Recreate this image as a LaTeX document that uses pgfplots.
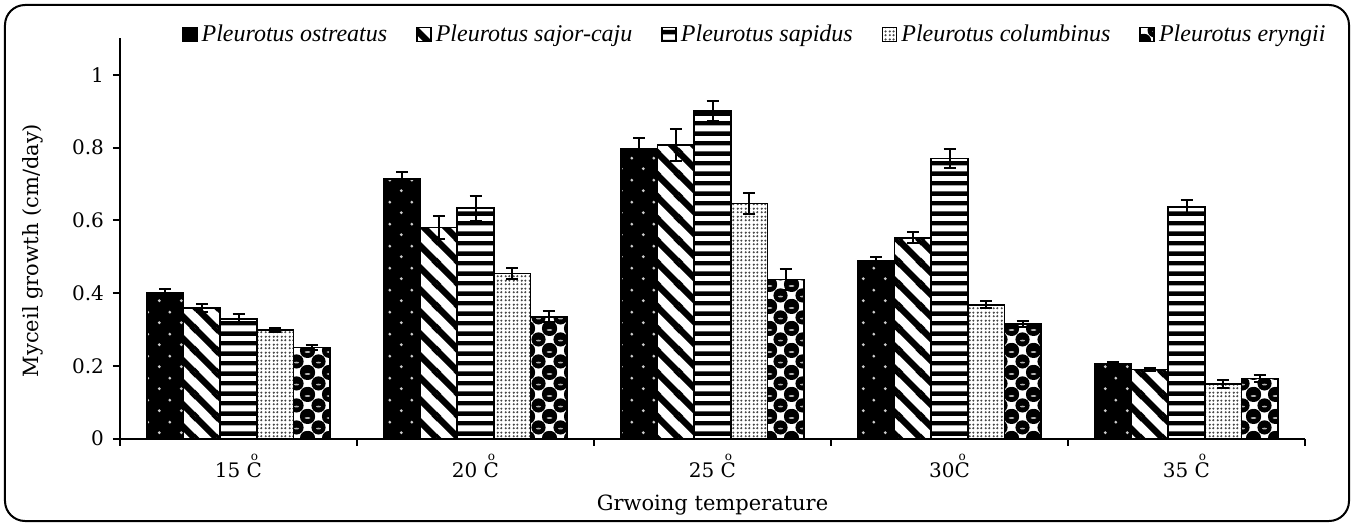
\documentclass[border=0pt]{standalone}
\usepackage{fontspec}
\setmainfont{DejaVu Serif}
\newfontfamily\legfont{Liberation Serif}
\usepackage{pgfplots}
\pgfplotsset{compat=1.18}
\usetikzlibrary{patterns}

% white dots on black
\pgfdeclarepatternformonly{wdots}{\pgfpoint{0pt}{0pt}}{\pgfpoint{11pt}{11pt}}{\pgfpoint{11pt}{11pt}}{%
  \pgfpathcircle{\pgfpoint{2.75pt}{2.75pt}}{0.8pt}%
  \pgfpathcircle{\pgfpoint{8.25pt}{8.25pt}}{0.8pt}%
  \pgfusepath{fill}}
% diagonal stripes
\pgfdeclarepatternformonly{dstripes}{\pgfpoint{0pt}{0pt}}{\pgfpoint{10.85pt}{10.85pt}}{\pgfpoint{10.85pt}{10.85pt}}{%
  \pgfsetlinewidth{3.2pt}%
  \pgfpathmoveto{\pgfpoint{-5.425pt}{5.425pt}}\pgfpathlineto{\pgfpoint{5.425pt}{-5.425pt}}%
  \pgfpathmoveto{\pgfpoint{0pt}{10.85pt}}\pgfpathlineto{\pgfpoint{10.85pt}{0pt}}%
  \pgfpathmoveto{\pgfpoint{5.425pt}{16.275pt}}\pgfpathlineto{\pgfpoint{16.275pt}{5.425pt}}%
  \pgfusepath{stroke}}
% horizontal stripes
\pgfdeclarepatternformonly{hstripes}{\pgfpoint{0pt}{0pt}}{\pgfpoint{40pt}{10pt}}{\pgfpoint{40pt}{10pt}}{%
  \pgfpathrectangle{\pgfpoint{-1pt}{0.3pt}}{\pgfpoint{42pt}{2.3pt}}%
  \pgfpathrectangle{\pgfpoint{-1pt}{5.3pt}}{\pgfpoint{42pt}{2.3pt}}%
  \pgfusepath{fill}}
% light dots
\pgfdeclarepatternformonly{ldots}{\pgfpoint{0pt}{0pt}}{\pgfpoint{4pt}{4pt}}{\pgfpoint{4pt}{4pt}}{%
  \pgfpathcircle{\pgfpoint{1pt}{1pt}}{0.65pt}%
  \pgfpathcircle{\pgfpoint{3pt}{1pt}}{0.65pt}%
  \pgfpathcircle{\pgfpoint{1pt}{3pt}}{0.65pt}%
  \pgfpathcircle{\pgfpoint{3pt}{3pt}}{0.65pt}%
  \pgfusepath{fill}}
% spheres
\pgfdeclarepatterninherentlycolored{spheres}{\pgfpoint{0pt}{0pt}}{\pgfpoint{11pt}{11pt}}{\pgfpoint{11pt}{11pt}}{%
  \pgfsetfillcolor{black}%
  \pgfpathcircle{\pgfpoint{0pt}{0pt}}{3.7pt}%
  \pgfpathcircle{\pgfpoint{11pt}{0pt}}{3.7pt}%
  \pgfpathcircle{\pgfpoint{0pt}{11pt}}{3.7pt}%
  \pgfpathcircle{\pgfpoint{11pt}{11pt}}{3.7pt}%
  \pgfpathcircle{\pgfpoint{5.5pt}{5.5pt}}{3.7pt}%
  \pgfusepath{fill}%
  \pgfsetfillcolor{white!70!black}%
  \pgfpathellipse{\pgfpoint{0pt}{-0.6pt}}{\pgfpoint{1.3pt}{0pt}}{\pgfpoint{0pt}{0.45pt}}%
  \pgfpathellipse{\pgfpoint{11pt}{-0.6pt}}{\pgfpoint{1.3pt}{0pt}}{\pgfpoint{0pt}{0.45pt}}%
  \pgfpathellipse{\pgfpoint{0pt}{10.4pt}}{\pgfpoint{1.3pt}{0pt}}{\pgfpoint{0pt}{0.45pt}}%
  \pgfpathellipse{\pgfpoint{11pt}{10.4pt}}{\pgfpoint{1.3pt}{0pt}}{\pgfpoint{0pt}{0.45pt}}%
  \pgfpathellipse{\pgfpoint{5.5pt}{4.9pt}}{\pgfpoint{1.3pt}{0pt}}{\pgfpoint{0pt}{0.45pt}}%
  \pgfusepath{fill}}

\newcommand{\dgC}{\ooalign{C\cr\hidewidth\raisebox{0.85em}[0pt][0pt]{\fontsize{6pt}{6pt}\selectfont o}\hidewidth\cr}}

\pgfplotsset{
  legsq/.style={legend image code/.code={\draw[##1, line width=0.8pt] (0pt,-3.5pt) rectangle (7pt,3.5pt);}},
  ebars/.style={error bars/.cd, y dir=both, y explicit,
    error bar style={line width=1pt, black},
    error mark options={rotate=90, mark size=3pt, line width=1pt, black}},
}

\begin{document}
\begin{tikzpicture}
\useasboundingbox (-60pt,-43.25pt) rectangle (616.5pt,219.25pt);
\begin{axis}[
  at={(0,0)}, anchor=south west,
  scale only axis, width=592.5pt, height=200pt,
  xmin=0, xmax=5, ymin=0, ymax=1.1,
  axis x line*=bottom, axis y line*=left,
  axis line style={line width=1pt, -},
  ybar=0pt, bar width=0.1545,
  xtick={0,1,2,3,4,5}, x tick label as interval,
  xticklabels={{15 \dgC},{20 \dgC},{25 \dgC},{30\dgC},{35 \dgC}},
  ytick={0,0.2,0.4,0.6,0.8,1},
  yticklabels={0,0.2,0.4,0.6,0.8,1},
  tick align=outside, major tick length=3.5pt,
  tick style={line width=1pt, black},
  ticklabel style={font=\fontsize{10pt}{12pt}\selectfont},
  xticklabel style={yshift=-5pt},
  yticklabel style={xshift=-1pt},
  xlabel={Grwoing temperature},
  ylabel={Myceil growth (cm/day)},
  label style={font=\fontsize{10.5pt}{12pt}\selectfont},
  xlabel style={at={(axis description cs:0.5,-0.18)}, anchor=base},
  ylabel style={at={(axis description cs:-0.0734,0.47)}, anchor=center},
  legend columns=5,
  legend style={at={(axis description cs:0.052,1.01)}, anchor=west, draw=none, fill=none, inner sep=0pt,
    font=\legfont\itshape\fontsize{12pt}{14pt}\selectfont,
    /tikz/every even column/.append style={column sep=12.5pt}},
]
\addplot[draw=black, line width=0.9pt, fill=black, postaction={pattern color=white!80!black, pattern=wdots}, legsq, ebars]
  coordinates {(0.5,0.400) +- (0,0.012) (1.5,0.713) +- (0,0.020) (2.5,0.796) +- (0,0.031) (3.5,0.488) +- (0,0.011) (4.5,0.205) +- (0,0.005)};
\addplot[draw=black, line width=0.9pt, fill=white, postaction={pattern color=black, pattern=dstripes}, legsq, ebars]
  coordinates {(0.5,0.358) +- (0,0.011) (1.5,0.580) +- (0,0.031) (2.5,0.807) +- (0,0.043) (3.5,0.552) +- (0,0.015) (4.5,0.190) +- (0,0.005)};
\addplot[draw=black, line width=0.9pt, fill=white, postaction={pattern color=black, pattern=hstripes}, legsq, ebars]
  coordinates {(0.5,0.328) +- (0,0.014) (1.5,0.633) +- (0,0.034) (2.5,0.900) +- (0,0.027) (3.5,0.770) +- (0,0.027) (4.5,0.637) +- (0,0.019)};
\addplot[draw=black, line width=0.9pt, fill=white, postaction={pattern color=black!72, pattern=ldots}, legsq, ebars]
  coordinates {(0.5,0.298) +- (0,0.006) (1.5,0.454) +- (0,0.016) (2.5,0.646) +- (0,0.028) (3.5,0.368) +- (0,0.010) (4.5,0.150) +- (0,0.010)};
\addplot[draw=black, line width=0.9pt, fill=white, postaction={pattern=spheres}, legsq, ebars]
  coordinates {(0.5,0.250) +- (0,0.006) (1.5,0.335) +- (0,0.015) (2.5,0.437) +- (0,0.028) (3.5,0.315) +- (0,0.008) (4.5,0.165) +- (0,0.010)};
\legend{Pleurotus ostreatus, Pleurotus sajor-caju, Pleurotus sapidus, Pleurotus columbinus, Pleurotus eryngii}
\end{axis}
\draw[line width=1pt, rounded corners=10pt] (-57.5pt,-41.25pt) rectangle (614.5pt,216.75pt);
\end{tikzpicture}
\end{document}
